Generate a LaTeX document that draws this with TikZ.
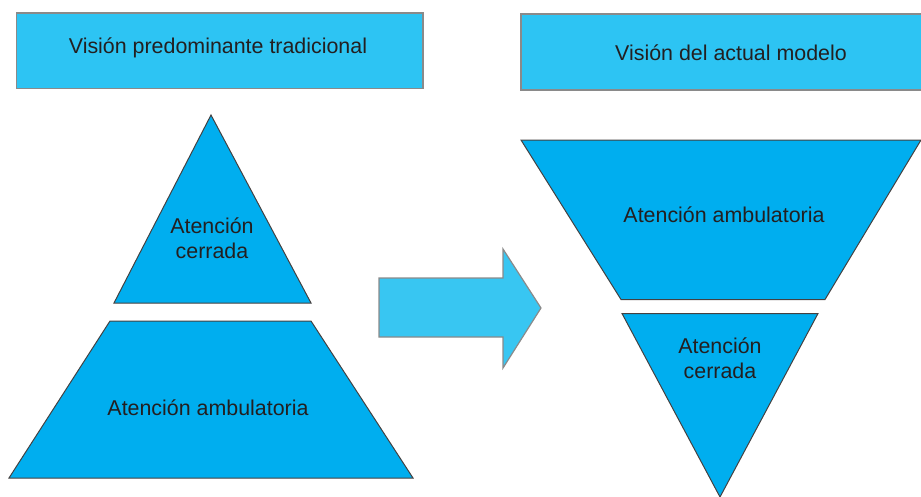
\documentclass[tikz,border=0pt]{standalone}
\usepackage{fontspec}
\setmainfont{Liberation Sans}
\definecolor{boxfill}{HTML}{2DC4F3}
\definecolor{shapefill}{HTML}{00AEEF}
\definecolor{arrowfill}{HTML}{38C6F2}
\definecolor{txt}{HTML}{231F20}
\definecolor{edgegray}{HTML}{8A8A8A}
\begin{document}
\begin{tikzpicture}[x=1pt,y=-1pt,
  titlebox/.style={draw=edgegray,line width=1.2pt,fill=boxfill},
  level/.style={draw=txt!85,line width=1pt,fill=shapefill},
  bigarrow/.style={draw=edgegray,line width=1.2pt,fill=arrowfill},
  lbl/.style={text=txt,font=\fontsize{21.4}{24.5}\selectfont,align=center,inner sep=0pt}]
\useasboundingbox (0,0) rectangle (921,496);
% title boxes
\draw[titlebox] (16.5,13) rectangle (423,88.5);
\node[lbl] (t1) at (218,48) {Visión predominante tradicional};
\draw[titlebox] (521,14) rectangle (923,90);
\node[lbl] (t2) at (731,53) {Visión del actual modelo};
% left pyramid
\draw[level] (211,115) -- (311,303) -- (114,303) -- cycle;
\node[lbl] (lc) at (212,238) {Atención\\cerrada};
\draw[level] (110,321) -- (311,321) -- (413,478) -- (9,478) -- cycle;
\node[lbl] (la) at (208,408) {Atención ambulatoria};
% arrow
\draw[bigarrow] (379,278) -- (503,278) -- (503,249) -- (541,308) -- (503,368) -- (503,337) -- (379,337) -- cycle;
% right inverted pyramid
\draw[level] (521,140) -- (921,140) -- (825,299.5) -- (621,299.5) -- cycle;
\node[lbl] (ra) at (724,215) {Atención ambulatoria};
\draw[level] (622,313.5) -- (818,313.5) -- (720,497) -- cycle;
\node[lbl] (rc) at (720,358) {Atención\\cerrada};
\end{tikzpicture}
\end{document}
